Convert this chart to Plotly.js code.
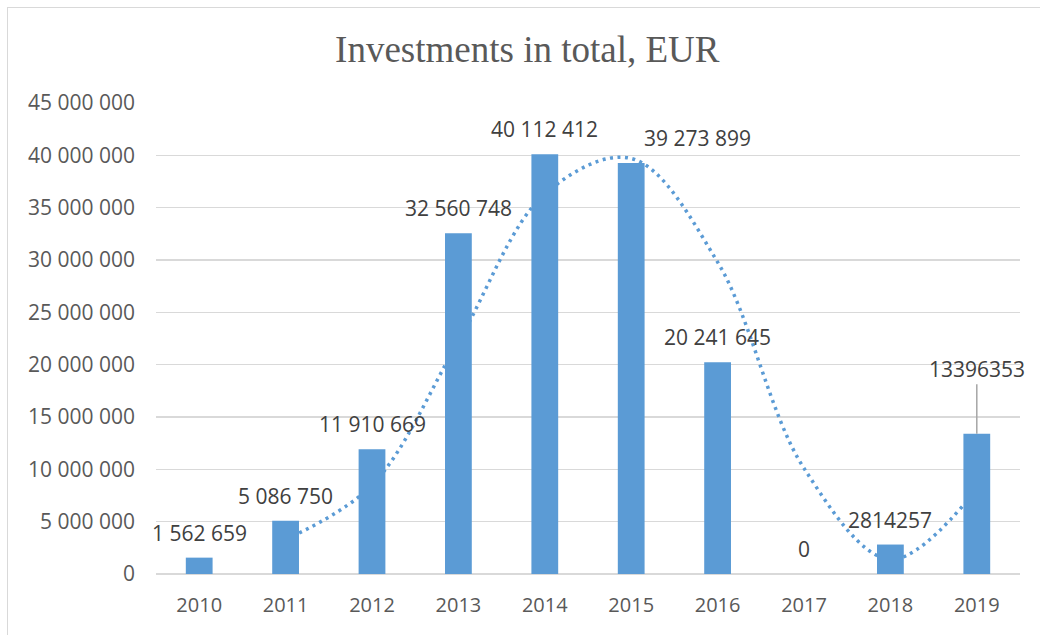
<!DOCTYPE html>
<html>
<head>
<meta charset="utf-8">
<script src="https://cdn.plot.ly/plotly-3.0.1.min.js"></script>
<style>
  html, body { margin: 0; padding: 0; background: #ffffff; }
  #wrap { position: relative; width: 1040px; height: 635px; overflow: hidden; }
  #frame { position: absolute; left: 7px; top: 7px; width: 1100px; height: 700px;
           border-left: 1.5px solid #d9d9d9; border-top: 1.5px solid #d9d9d9; pointer-events: none; }
  #chart { position: absolute; left: 0; top: 0; width: 1040px; height: 635px; }
</style>
</head>
<body>
<div id="wrap">
  <div id="frame"></div>
  <div id="chart"></div>
</div>
<script>
// ---- data ----
const years = ["2010", "2011", "2012", "2013", "2014", "2015", "2016", "2017", "2018", "2019"];
const investments = [1562659, 5086750, 11910669, 32560748, 40112412, 39273899, 20241645, 0, 2814257, 13396353];
const valueLabels = ["1 562 659", "5 086 750", "11 910 669", "32 560 748", "40 112 412", "39 273 899", "20 241 645", "0", "2814257", "13396353"];
// dotted trend line (2-period moving average as drawn)
const trendYears = ["2011", "2012", "2013", "2014", "2015", "2016", "2017", "2018", "2019"];
const trendValues = [3300000, 8500000, 22200000, 36300000, 39700000, 29800000, 10100000, 1400000, 8100000];
const yTickValues = [0, 5000000, 10000000, 15000000, 20000000, 25000000, 30000000, 35000000, 40000000, 45000000];
const yTickLabels = ["0", "5 000 000", "10 000 000", "15 000 000", "20 000 000", "25 000 000", "30 000 000", "35 000 000", "40 000 000", "45 000 000"];

// ---- styling ----
const barColor = "#5b9bd5";
const labelFont = { family: "Open Sans, sans-serif", size: 21, color: "#404040" };
const yMax = 45000000;

const trend = {
  type: "scatter", mode: "lines",
  x: trendYears, y: trendValues,
  xaxis: "x", yaxis: "y",
  line: { color: barColor, width: 3.5, dash: "3px,4.5px", shape: "spline", smoothing: 1 },
  hoverinfo: "skip", showlegend: false
};

const bars = {
  type: "bar",
  x: years, y: investments,
  xaxis: "x2", yaxis: "y2",
  marker: { color: barColor, line: { width: 0 } },
  showlegend: false
};

// label placement (style only); x given as category index
const labelXShift = { "2015": 66 };
const annotations = years.map((yr, i) => {
  if (yr === "2019") {
    return {
      x: i, y: investments[i], xref: "x", yref: "y",
      text: valueLabels[i], font: labelFont,
      showarrow: true, arrowhead: 0, arrowwidth: 1.5, arrowcolor: "#a6a6a6",
      ax: 0, ay: -65, standoff: 0, startstandoff: 0
    };
  }
  return {
    x: i, y: investments[i], xref: "x", yref: "y",
    text: valueLabels[i], font: labelFont, showarrow: false,
    xanchor: "center", yanchor: "middle",
    xshift: labelXShift[yr] || 0, yshift: 25
  };
});

const catAxis = {
  type: "category", categoryorder: "array", categoryarray: years,
  range: [-0.5, 9.5], fixedrange: true
};

const layout = {
  width: 1040, height: 635,
  margin: { l: 156, r: 20, t: 103, b: 61 },
  paper_bgcolor: "rgba(0,0,0,0)",
  plot_bgcolor: "rgba(0,0,0,0)",
  bargap: 0.69,
  title: {
    text: "Investments in total, EUR",
    font: { family: "Liberation Serif, serif", size: 37, color: "#595959" },
    x: 0.507, xanchor: "center", y: 0.923, yanchor: "middle", xref: "container", yref: "container"
  },
  xaxis: Object.assign({}, catAxis, {
    showgrid: false, zeroline: false, showline: false, ticks: "",
    tickfont: { family: "Open Sans, sans-serif", size: 20, color: "#595959" },
    ticklabelstandoff: 17
  }),
  xaxis2: Object.assign({}, catAxis, {
    overlaying: "x", visible: false, showgrid: false, zeroline: false
  }),
  yaxis: {
    range: [0, yMax], tickvals: yTickValues, ticktext: yTickLabels,
    showgrid: true, gridcolor: "#d9d9d9", gridwidth: 1.5,
    zeroline: true, zerolinecolor: "#d9d9d9", zerolinewidth: 1.5,
    showline: false, ticks: "",
    tickfont: { family: "Open Sans, sans-serif", size: 21, color: "#595959" },
    ticklabelstandoff: 20, fixedrange: true
  },
  yaxis2: {
    range: [0, yMax], overlaying: "y", visible: false,
    showgrid: false, zeroline: false, fixedrange: true
  },
  annotations: annotations,
  showlegend: false
};

Plotly.newPlot("chart", [trend, bars], layout, { displayModeBar: false, staticPlot: true });
</script>
</body>
</html>
